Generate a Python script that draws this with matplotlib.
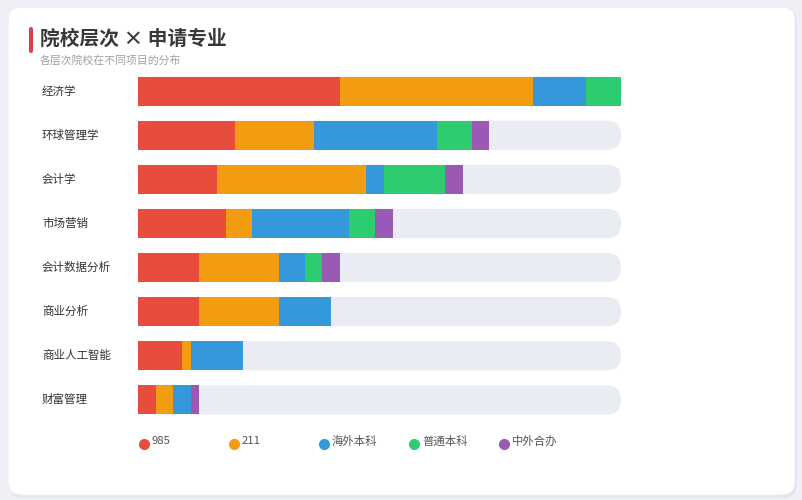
import matplotlib
matplotlib.use("Agg")
import matplotlib.pyplot as plt
from matplotlib.patches import FancyBboxPatch
from matplotlib.transforms import blended_transform_factory
import numpy as np

plt.rcParams['font.family'] = ['Noto Sans CJK SC', 'DejaVu Sans']

# ---- data ----
categories = ['经济学', '环球管理学', '会计学', '市场营销', '会计数据分析', '商业分析', '商业人工智能', '财富管理']
series_names = ['985', '211', '海外本科', '普通本科', '中外合办']
s985 = [23, 11, 9, 10, 7, 7, 5, 2]
s211 = [22, 9, 17, 3, 9, 9, 1, 2]
s_overseas = [6, 14, 2, 11, 3, 6, 6, 2]
s_regular = [4, 4, 7, 3, 2, 0, 0, 0]
s_sino = [0, 2, 2, 2, 2, 0, 0, 1]
series_values = [s985, s211, s_overseas, s_regular, s_sino]
colors = ['#e74c3c', '#f39c12', '#3498db', '#2ecc71', '#9b59b6']

title = '院校层次 × 申请专业'
subtitle = '各层次院校在不同项目的分布'

W, H = 803, 500
fig = plt.figure(figsize=(W / 100, H / 100), dpi=100)
fig.patch.set_facecolor('#eef0f5')

# background / decoration axes in pixel coords
bg = fig.add_axes([0, 0, 1, 1])
bg.set_xlim(0, W)
bg.set_ylim(H, 0)
bg.axis('off')
bg.add_patch(FancyBboxPatch((9, 9), 788, 489, boxstyle='round,pad=0,rounding_size=14',
                            fc='#e3e6ec', ec='none', zorder=0))
bg.add_patch(FancyBboxPatch((8, 7), 787, 488, boxstyle='round,pad=0,rounding_size=14',
                            fc='white', ec='#eceef3', lw=0.8, zorder=1))
bg.add_patch(FancyBboxPatch((29, 27), 4, 26, boxstyle='round,pad=0,rounding_size=2',
                            fc='#dc3f45', ec='none', zorder=2))
bg.text(40, 39, title, fontsize=14.2, fontweight='bold', color='#383838', va='center', ha='left', zorder=3)
bg.text(40, 60, subtitle, fontsize=7.8, color='#a0a0a0', va='center', ha='left', zorder=3)

# legend
for i, (name, c) in enumerate(zip(series_names, colors)):
    cx = 144 + 90 * i
    bg.scatter([cx], [444], s=64, color=c, zorder=3, linewidths=0)
    bg.text(cx + 8, 441.5, name, fontsize=8.2, color='#555555', va='center', ha='left', zorder=3)

# ---- main bars ----
totals = np.sum(np.array(series_values), axis=0)
xmax = totals.max()
ax = fig.add_axes([138 / W, 1 - 422 / H, 483 / W, 353 / H])
ax.set_xlim(0, xmax)
n = len(categories)
ax.set_ylim(n - 0.5, -0.5)
ax.axis('off')
ax.patch.set_alpha(0)

bar_h = 0.66
ypos = np.arange(n)
# rounded tracks
px_per_x = 483 / xmax
px_per_y = 353 / n
r_px = 14
for y in ypos:
    tr = FancyBboxPatch((0, y - bar_h / 2), xmax, bar_h,
                        boxstyle=f'round,pad=0,rounding_size={r_px / px_per_x}',
                        mutation_aspect=(px_per_x / px_per_y),
                        fc='#e9ecf2', ec='none', zorder=1)
    ax.add_patch(tr)

left = np.zeros(n)
for vals, c in zip(series_values, colors):
    v = np.array(vals, dtype=float)
    ax.barh(ypos, v, left=left, height=bar_h, color=c, edgecolor='none', zorder=2)
    left += v

# category labels
tr_lab = blended_transform_factory(fig.transFigure, ax.transData)
for y, cat in zip(ypos, categories):
    ax.text(42 / W, y, cat, transform=tr_lab, fontsize=8.3, color='#333333',
            va='center', ha='left', clip_on=False)

fig.savefig('out.png', dpi=100, facecolor=fig.get_facecolor())
